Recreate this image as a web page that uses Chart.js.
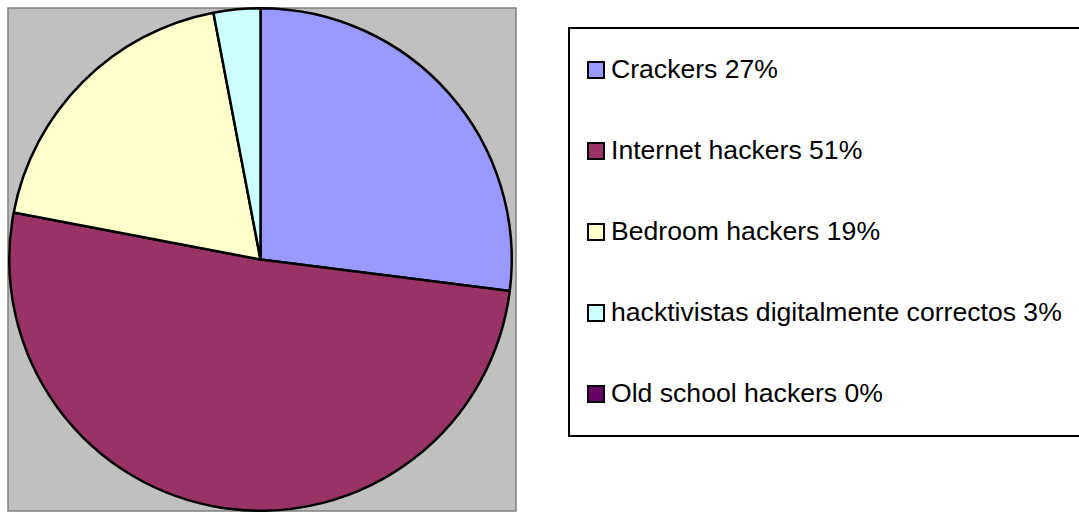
<!DOCTYPE html>
<html>
<head>
<meta charset="utf-8">
<script src="https://cdn.jsdelivr.net/npm/chart.js@4.4.1/dist/chart.umd.min.js"></script>
<style>
    html, body { margin: 0; padding: 0; background: #fff; overflow: hidden; }
    #wrap { position: relative; width: 1079px; height: 512px; overflow: hidden; }
    #legend {
        position: absolute; left: 568px; top: 27px; width: 530px; height: 410px;
        box-sizing: border-box; border: 2px solid #000; background: #fff;
        font-family: 'Liberation Sans', Arial, sans-serif; font-size: 26.6px; color: #000;
    }
    .item { height: 81px; display: flex; align-items: center; padding-left: 17px; white-space: nowrap; }
    .box { width: 18px; height: 18px; box-sizing: border-box; border: 2.5px solid #000; margin-right: 6px; flex: none; }
</style>
</head>
<body>
<div id="wrap">
    <canvas id="pie" width="1079" height="512"></canvas>
    <div id="legend"></div>
</div>
<script>
// datos del gráfico
const labels = ['Crackers', 'Internet hackers', 'Bedroom hackers', 'hacktivistas digitalmente correctos', 'Old school hackers'];
const values = [27, 51, 19, 3, 0];
const colors = ['#9999FF', '#993366', '#FFFFCC', '#CCFFFF', '#660066'];

// fondo gris del área de trazado
const plotArea = {
    id: 'plotArea',
    beforeDraw: function(chart) {
        const ctx = chart.ctx;
        ctx.save();
        ctx.fillStyle = '#C0C0C0';
        ctx.fillRect(8, 8, 508, 503);
        ctx.strokeStyle = '#808080';
        ctx.lineWidth = 1.5;
        ctx.strokeRect(8, 8, 508, 503);
        ctx.restore();
    }
};

new Chart(document.getElementById('pie').getContext('2d'), {
    type: 'pie',
    data: {
        labels: labels,
        datasets: [{
            data: values,
            backgroundColor: colors,
            borderColor: '#000',
            borderWidth: 2.5
        }]
    },
    options: {
        responsive: false,
        animation: false,
        layout: { padding: { left: 8, top: 7, right: 566, bottom: 0 } },
        plugins: {
            legend: { display: false },
            tooltip: { enabled: false }
        }
    },
    plugins: [plotArea]
});

// leyenda
const legend = document.getElementById('legend');
labels.forEach(function(label, i) {
    const row = document.createElement('div');
    row.className = 'item';
    const box = document.createElement('span');
    box.className = 'box';
    box.style.background = colors[i];
    const txt = document.createElement('span');
    txt.textContent = label + ' ' + values[i] + '%';
    row.appendChild(box);
    row.appendChild(txt);
    legend.appendChild(row);
});
</script>
</body>
</html>
